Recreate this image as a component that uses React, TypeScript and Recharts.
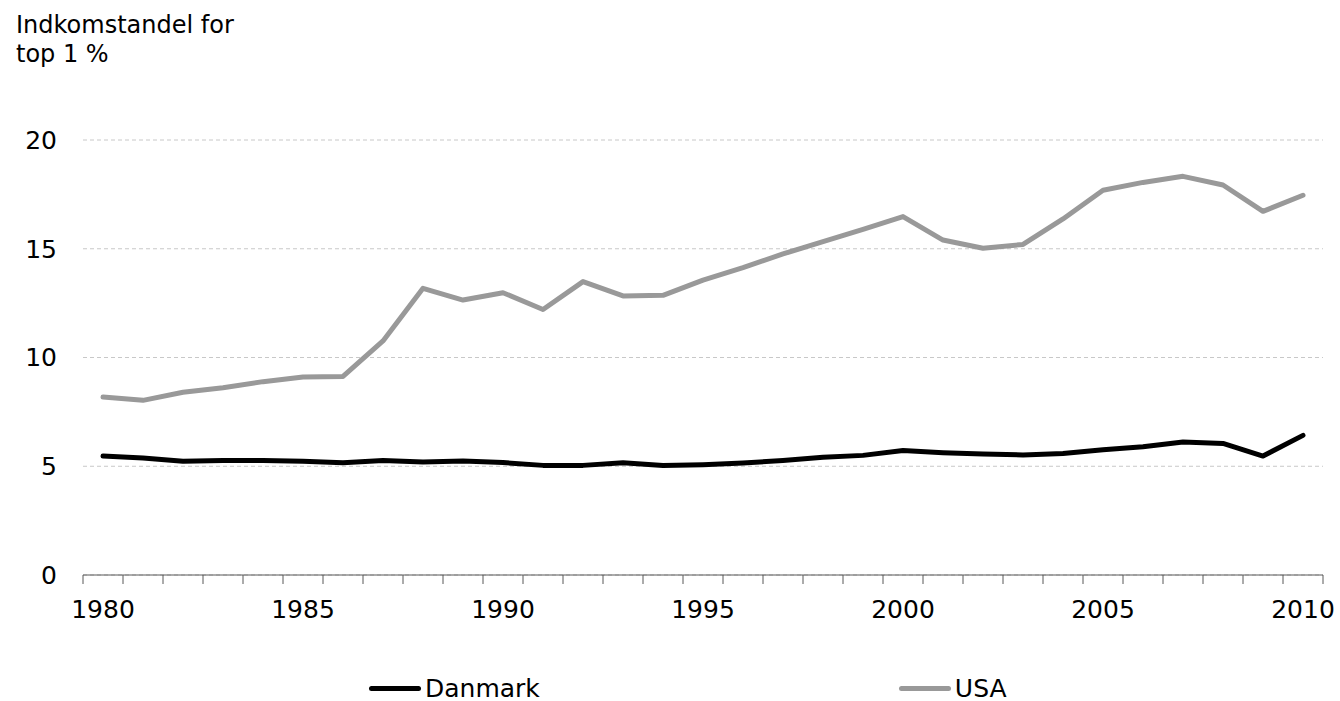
import { CartesianGrid, Legend, Line, LineChart, XAxis, YAxis } from "recharts";

const FONT = "'DejaVu Sans', Verdana, sans-serif";

const years = [
  1980, 1981, 1982, 1983, 1984, 1985, 1986, 1987, 1988, 1989, 1990, 1991, 1992, 1993, 1994, 1995,
  1996, 1997, 1998, 1999, 2000, 2001, 2002, 2003, 2004, 2005, 2006, 2007, 2008, 2009, 2010,
];
const danmark = [
  5.47, 5.38, 5.23, 5.27, 5.27, 5.23, 5.16, 5.26, 5.2, 5.24, 5.17, 5.04, 5.04, 5.16, 5.03, 5.07,
  5.15, 5.26, 5.41, 5.5, 5.72, 5.62, 5.56, 5.52, 5.59, 5.76, 5.9, 6.11, 6.05, 5.47, 6.42,
];
const usa = [
  8.18, 8.03, 8.4, 8.61, 8.89, 9.1, 9.13, 10.76, 13.18, 12.64, 12.98, 12.21, 13.49, 12.83, 12.86, 13.56,
  14.13, 14.76, 15.33, 15.89, 16.48, 15.4, 15.02, 15.2, 16.37, 17.69, 18.05, 18.33, 17.93, 16.72, 17.46,
];
const labelYears = [1980, 1985, 1990, 1995, 2000, 2005, 2010];
const yTicks = [0, 5, 10, 15, 20];

// tick marks sit between the years, labels sit on the years
const boundaries = [...years.map((y) => y - 0.5), years[years.length - 1] + 0.5];
const xTicks = [...boundaries, ...labelYears].sort((a, b) => a - b);

const data = years.map((year, i) => ({ year, Danmark: danmark[i], USA: usa[i] }));

function YearTick(props: any) {
  const { x, y, payload } = props;
  const v = payload.value;
  if (!Number.isInteger(v)) {
    return <line x1={x} x2={x} y1={y - 9} y2={y} stroke="#595959" strokeWidth={1} />;
  }
  return (
    <text x={x} y={y} dy={34} textAnchor="middle" fontSize={25} fontFamily={FONT} fill="#000">
      {v}
    </text>
  );
}

function LegendContent(props: any) {
  const { payload } = props;
  return (
    <div style={{ display: "flex", alignItems: "center" }}>
      {(payload || []).map((e: any, i: number) => (
        <div key={e.value} style={{ display: "flex", alignItems: "center", marginRight: i === 0 ? 359 : 0 }}>
          <span style={{ display: "inline-block", width: 52, height: 5, borderRadius: 3, background: e.color }} />
          <span style={{ marginLeft: 4, fontSize: 25, lineHeight: 1, fontFamily: FONT, color: "#000" }}>{e.value}</span>
        </div>
      ))}
    </div>
  );
}

export default function App() {
  return (
    <div style={{ position: "absolute", left: 0, top: 0, width: 1340, height: 701, background: "#fff" }}>
      <div
        style={{
          position: "absolute",
          left: 16,
          top: 11,
          fontFamily: FONT,
          fontSize: 24,
          lineHeight: "29px",
          color: "#000",
          zIndex: 2,
        }}
      >
        Indkomstandel for
        <br />
        top 1 %
      </div>
      <LineChart width={1340} height={701} data={data} margin={{ top: 140, right: 17, bottom: 66, left: 0 }}>
        <CartesianGrid vertical={false} stroke="#c8c8c8" strokeDasharray="4 3" />
        <XAxis
          dataKey="year"
          type="number"
          domain={[1979.5, 2010.5]}
          ticks={xTicks}
          interval={0}
          height={60}
          tickSize={9}
          tickMargin={0}
          tickLine={false}
          axisLine={{ stroke: "#595959", strokeWidth: 1 }}
          tick={<YearTick />}
        />
        <YAxis
          width={83}
          domain={[0, 20]}
          ticks={yTicks}
          axisLine={false}
          tickLine={false}
          tickSize={0}
          tickMargin={26}
          tick={{ fontSize: 25, fontFamily: FONT, fill: "#000" }}
        />
        <Legend
          layout="horizontal"
          verticalAlign="middle"
          align="center"
          content={<LegendContent />}
          wrapperStyle={{ top: 676, left: 369, width: 800, height: 25 }}
        />
        <Line
          type="linear"
          dataKey="Danmark"
          stroke="#000000"
          strokeWidth={5}
          strokeLinecap="round"
          strokeLinejoin="round"
          dot={false}
          isAnimationActive={false}
        />
        <Line
          type="linear"
          dataKey="USA"
          stroke="#999999"
          strokeWidth={5}
          strokeLinecap="round"
          strokeLinejoin="round"
          dot={false}
          isAnimationActive={false}
        />
      </LineChart>
    </div>
  );
}
